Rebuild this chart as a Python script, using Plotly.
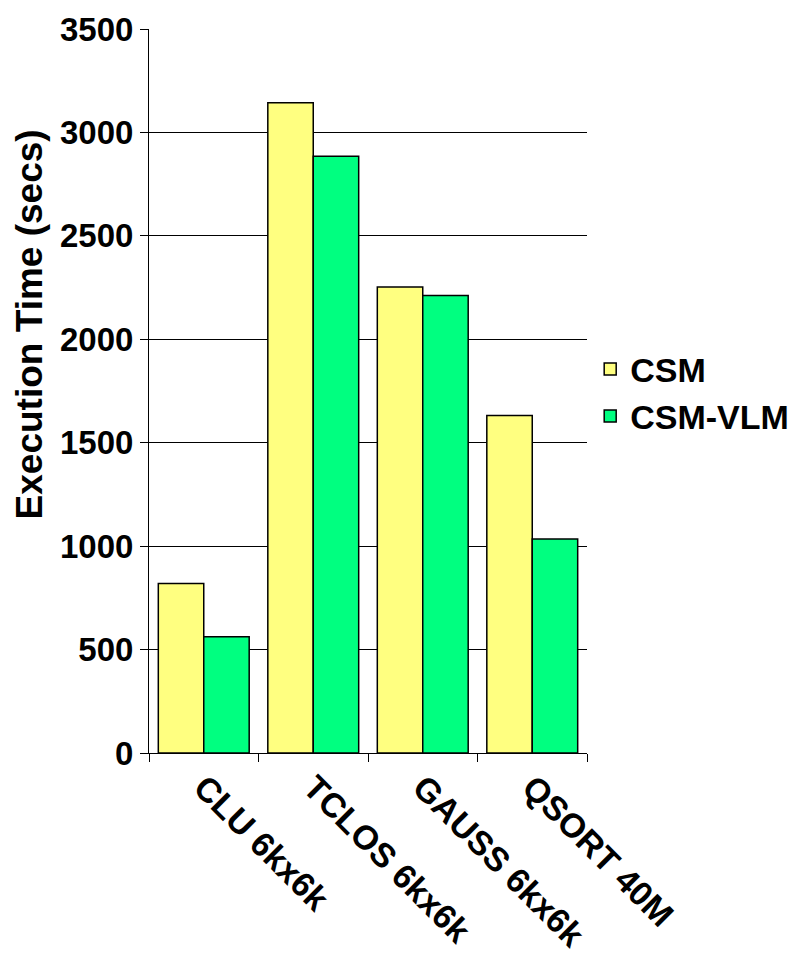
import plotly.graph_objects as go

categories = ["CLU 6kx6k", "TCLOS 6kx6k", "GAUSS 6kx6k", "QSORT 40M"]
csm = [820, 3143, 2253, 1632]
csm_vlm = [562, 2885, 2212, 1035]
y_ticks = [0, 500, 1000, 1500, 2000, 2500, 3000, 3500]
y_title = "Execution Time (secs)"

FAM = "Liberation Sans, Arial, sans-serif"
TICKFONT = dict(family=FAM, size=33, color="black", weight="bold")

fig = go.Figure()
fig.add_trace(go.Bar(name="CSM", x=categories, y=csm,
                     marker=dict(color="#FFFF80", line=dict(color="black", width=1.5))))
fig.add_trace(go.Bar(name="CSM-VLM", x=categories, y=csm_vlm,
                     marker=dict(color="#00FF80", line=dict(color="black", width=1.5))))

fig.update_layout(
    width=797, height=956, autosize=False,
    margin=dict(l=141, r=217, t=21, b=211, pad=0),
    paper_bgcolor="white", plot_bgcolor="white",
    font=TICKFONT,
    barmode="group", bargap=0.17, bargroupgap=0,
    showlegend=True,
    legend=dict(x=1.005, xanchor="left", y=0.57, yanchor="top",
                font=dict(family=FAM, size=34, color="black", weight="bold"),
                bgcolor="rgba(0,0,0,0)", tracegroupgap=0, itemwidth=30),
    annotations=[dict(text=y_title, textangle=-90, xref="paper", yref="paper",
                      x=0, y=0.592, xanchor="center", yanchor="middle",
                      xshift=-120, showarrow=False,
                      font=dict(family=FAM, size=37, color="black", weight="bold"))],
)
fig.update_xaxes(
    type="category", tickangle=45, tickson="boundaries",
    showline=True, linecolor="black", linewidth=1,
    ticks="outside", ticklen=8, tickcolor="black",
    showgrid=False, automargin=False,
    tickfont=dict(family=FAM, size=34, color="black", weight="bold"),
)
fig.update_yaxes(
    range=[0, 3500], tickvals=y_ticks,
    showline=True, linecolor="black", linewidth=1,
    ticks="outside", ticklen=8, tickcolor="black",
    showgrid=True, gridcolor="black", gridwidth=1,
    zeroline=False, automargin=False,
    tickfont=TICKFONT,
)

fig.write_html("out.html")
